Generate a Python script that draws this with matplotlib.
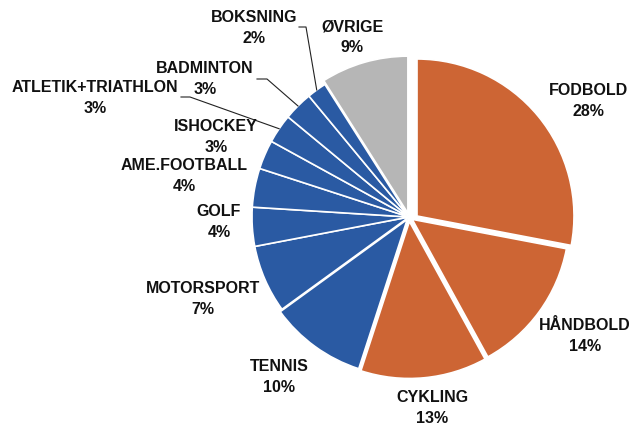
import numpy as np
import matplotlib.pyplot as plt

sports = ["FODBOLD", "HÅNDBOLD", "CYKLING", "TENNIS", "MOTORSPORT", "GOLF",
          "AME.FOOTBALL", "ISHOCKEY", "ATLETIK+TRIATHLON", "BADMINTON",
          "BOKSNING", "ØVRIGE"]
shares = [28, 14, 13, 10, 7, 4, 4, 3, 3, 3, 2, 9]

orange = "#CD6534"
blue = "#2A5AA3"
grey = "#B6B6B6"
colors = [orange] * 3 + [blue] * 8 + [grey]
# pull-out distance of each slice, in pixels
explode = [0, 4, 4.5, 3, 0, 0, 0, 0, 0, 0, 0, 4]

# label centres in pixels (x, y from top of the picture)
label_px = [(588, 101), (585, 336), (432, 408), (279, 377), (203, 299),
            (219, 222), (184, 176), (216, 137), (95, 98), (205, 79),
            (254, 28), (352, 37)]
# leader lines: label side points in pixels
leaders = {8: [(181, 97), (190, 97)],
           9: [(257, 79), (267, 79)],
           10: [(299, 27), (306, 27)]}

W, H = 632, 428
cx, cy, r = 409, 217, 157

fig = plt.figure(figsize=(W / 100, H / 100), dpi=100)
ax = fig.add_axes([0, 0, 1, 1])

wedges, _ = ax.pie(shares, colors=colors, explode=explode, startangle=90,
                   counterclock=False, radius=r, center=(cx, H - cy),
                   wedgeprops=dict(edgecolor="white", linewidth=1.2))
# fodbold is pulled out to the right
wedges[0].set_center((cx + 8, H - cy + 1))

ax.set_xlim(0, W)
ax.set_ylim(0, H)
ax.set_aspect("equal")
ax.axis("off")

for i in range(len(sports)):
    x, y = label_px[i]
    ax.text(x, H - (y - 10.5), sports[i], ha="center", va="center",
            fontsize=11.5, fontweight="bold", family="Liberation Sans", color="#111111")
    ax.text(x, H - (y + 10.5), str(shares[i]) + "%", ha="center", va="center",
            fontsize=11.5, fontweight="bold", family="Liberation Sans", color="#111111")

cum = np.cumsum(shares)
for i, pts in leaders.items():
    mid = cum[i] - shares[i] / 2.0
    ang = np.deg2rad(90 - 360 * mid / 100.0)
    ex = cx + r * np.cos(ang)
    ey = cy - r * np.sin(ang)
    xs = [p[0] for p in pts] + [ex]
    ys = [H - p[1] for p in pts] + [H - ey]
    ax.plot(xs, ys, color="#222222", lw=0.8)

fig.savefig("out.png", dpi=100)
